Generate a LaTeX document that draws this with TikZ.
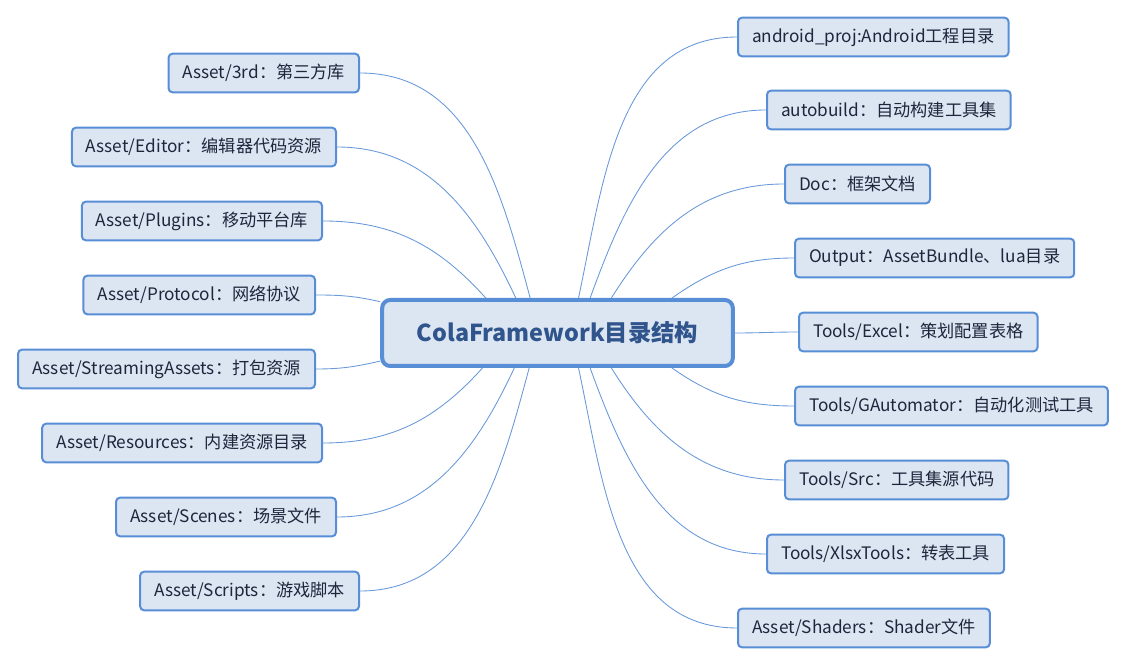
\documentclass[tikz,border=0pt]{standalone}
\usepackage{fontspec}
\setmainfont{Noto Sans CJK SC}

\definecolor{branchblue}{RGB}{88,142,214}
\definecolor{boxfill}{RGB}{220,230,242}
\definecolor{roottext}{RGB}{48,84,140}
\definecolor{leaftext}{RGB}{30,38,60}

\tikzset{
	leaf/.style={draw=branchblue, line width=1.5pt, fill=boxfill, rounded corners=3pt,
		text=leaftext, font=\fontsize{12.9}{15}\selectfont, minimum height=29pt, inner xsep=10.5pt},
	rootbox/.style={draw=branchblue, line width=3pt, fill=boxfill, rounded corners=6pt,
		text=roottext, font=\fontsize{17.5}{20}\selectfont\bfseries,
		minimum width=263pt, minimum height=49.5pt},
	branch/.style={draw=branchblue!90!white, line width=0.65pt}
}

\begin{document}
\begin{tikzpicture}[x=0.75pt, y=-0.75pt]

\useasboundingbox (0, 0) rectangle (1128, 666);

\node[rootbox] (root) at (557.5, 333) {ColaFramework目录结构};

% left side
\foreach \n/\xr/\y/\a/\o/\text in {
	1/360/73/128.2/105/{Asset/3rd：第三方库},
	2/337/147/140.5/115/{Asset/Editor：编辑器代码资源},
	3/323/221/154.8/132/{Asset/Plugins：移动平台库},
	4/316/295/170.9/167/{Asset/Protocol：网络协议},
	5/316/369/189.1/193/{Asset/StreamingAssets：打包资源},
	6/323/443/205.2/228/{Asset/Resources：内建资源目录},
	7/337/517/219.5/245/{Asset/Scenes：场景文件},
	8/360/591/231.8/255/{Asset/Scripts：游戏脚本}}
{
	\node[leaf, anchor=east] (left\n) at (\xr, \y) {\text};
	\draw[branch] (root.\a) to[out=\o, in=0] (left\n.east);
}

% right side
\foreach \n/\xl/\y/\a/\o/\text in {
	1/737/37/59.6/78/{android\_proj:Android工程目录},
	2/766/110/47.1/70/{autobuild：自动构建工具集},
	3/784/184/33.2/58/{Doc：框架文档},
	4/794/258/17.3/35/{Output：AssetBundle、lua目录},
	5/798/332/0/0/{Tools/Excel：策划配置表格},
	6/794/406/-17.3/-35/{Tools/GAutomator：自动化测试工具},
	7/784/480/-33.2/-58/{Tools/Src：工具集源代码},
	8/766/554/-47.1/-70/{Tools/XlsxTools：转表工具},
	9/737/628/-59.6/-78/{Asset/Shaders：Shader文件}}
{
	\node[leaf, anchor=west] (right\n) at (\xl, \y) {\text};
	\draw[branch] (root.\a) to[out=\o, in=180] (right\n.west);
}

\end{tikzpicture}
\end{document}
